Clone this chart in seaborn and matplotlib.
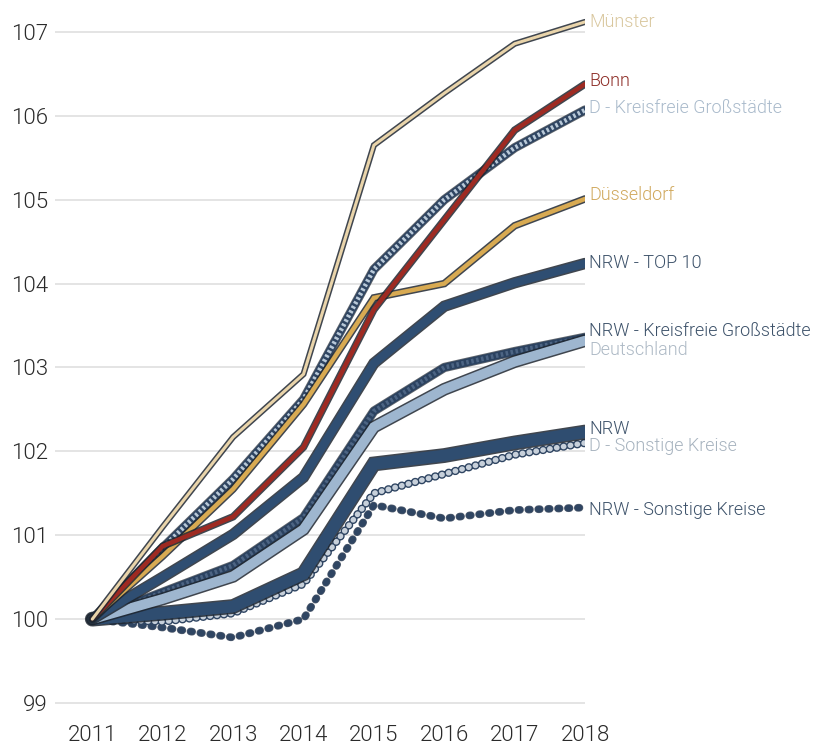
import matplotlib
matplotlib.use("Agg")
import matplotlib.pyplot as plt
import matplotlib.patheffects as pe
import seaborn as sns
import pandas as pd

years = [2011, 2012, 2013, 2014, 2015, 2016, 2017, 2018]

muenster = [100, 101.10, 102.17, 102.92, 105.65, 106.27, 106.86, 107.12]
bonn = [100, 100.87, 101.22, 102.05, 103.69, 104.76, 105.83, 106.38]
d_kreisfrei = [100, 100.85, 101.67, 102.62, 104.17, 105.00, 105.62, 106.07]
duesseldorf = [100, 100.75, 101.55, 102.56, 103.83, 104.00, 104.69, 105.01]
nrw_top10 = [100, 100.50, 101.01, 101.69, 103.05, 103.73, 104.01, 104.24]
nrw_kreisfrei = [100, 100.32, 100.64, 101.21, 102.48, 103.00, 103.19, 103.36]
deutschland = [100, 100.24, 100.51, 101.07, 102.29, 102.74, 103.07, 103.32]
nrw = [100, 100.07, 100.15, 100.54, 101.85, 101.95, 102.10, 102.23]
d_sonstige = [100, 99.97, 100.07, 100.42, 101.50, 101.73, 101.96, 102.10]
nrw_sonstige = [100, 99.90, 99.78, 100.00, 101.36, 101.20, 101.30, 101.33]

series_names = ["NRW - Sonstige Kreise", "D - Sonstige Kreise", "NRW",
                "NRW - Kreisfreie Großstädte", "Deutschland", "NRW - TOP 10",
                "D - Kreisfreie Großstädte", "Düsseldorf", "Bonn", "Münster"]
series_values = [nrw_sonstige, d_sonstige, nrw, nrw_kreisfrei, deutschland,
                 nrw_top10, d_kreisfrei, duesseldorf, bonn, muenster]

y_ticks = [99, 100, 101, 102, 103, 104, 105, 106, 107]

styles = {
    "Münster": dict(c="#e9d4aa", lw=2.2, kind="solid", lc="#d9c79e", off=0),
    "Bonn": dict(c="#9e2a22", lw=3.2, kind="solid", lc="#8e2e28", off=2.5),
    "D - Kreisfreie Großstädte": dict(c="#2f4562", lw=5.5, kind="stripe", oc="#b9c9d8", lc="#a9bacb", off=1.5),
    "Düsseldorf": dict(c="#d8aa52", lw=3.2, kind="solid", lc="#d0a85c", off=3),
    "NRW - TOP 10": dict(c="#2f4e72", lw=6.0, kind="solid", lc="#3d526a", off=0.5),
    "NRW - Kreisfreie Großstädte": dict(c="#2b4260", lw=5.5, kind="stripe", oc="#4d6584", lc="#3d526a", off=4.5),
    "Deutschland": dict(c="#9eb6cf", lw=7.0, kind="solid", lc="#adb9c5", off=-6.5),
    "NRW": dict(c="#2f4d70", lw=8.5, kind="solid", lc="#3d526a", off=2.5),
    "D - Sonstige Kreise": dict(c="#c7d0da", lw=4.0, kind="ring", lc="#a7b3bf", off=-2),
    "NRW - Sonstige Kreise": dict(c="#2f4562", lw=4.6, kind="dots", lc="#3d526a", off=-2),
}

sns.set_style("white")
plt.rcParams["font.family"] = ["Roboto", "DejaVu Sans"]

fig = plt.figure(figsize=(8.16, 7.47), dpi=100)
ax = fig.add_axes([0.0674, 0.0477, 0.717 - 0.0674, 0.9965 - 0.0477])

outline = "#1e2630"
for name, vals in zip(series_names, series_values):
    st = styles[name]
    df = pd.DataFrame({"year": years, "value": vals})
    kind = st["kind"]
    if kind == "solid":
        sns.lineplot(data=df, x="year", y="value", ax=ax, color=st["c"], lw=st["lw"],
                     solid_joinstyle="miter", solid_capstyle="round",
                     path_effects=[pe.Stroke(linewidth=st["lw"] + 2.2, foreground=outline, alpha=0.85),
                                   pe.Normal()])
    elif kind == "stripe":
        sns.lineplot(data=df, x="year", y="value", ax=ax, color=st["c"], lw=st["lw"],
                     solid_capstyle="round",
                     path_effects=[pe.Stroke(linewidth=st["lw"] + 1.2, foreground=outline, alpha=0.7),
                                   pe.Normal()])
        sns.lineplot(data=df, x="year", y="value", ax=ax, color=st["oc"], lw=st["lw"] - 2.2)
        ax.lines[-1].set_dashes([0.55, 0.55])
        ax.lines[-1].set_dash_capstyle("butt")
    elif kind == "ring":
        sns.lineplot(data=df, x="year", y="value", ax=ax, color=st["c"], lw=st["lw"])
        ln = ax.lines[-1]
        ln.set_dashes([0.05, 1.2])
        ln.set_dash_capstyle("round")
        ln.set_path_effects([pe.Stroke(linewidth=st["lw"] + 2.0, foreground="#2f4562"), pe.Normal()])
    else:
        sns.lineplot(data=df, x="year", y="value", ax=ax, color=st["c"], lw=st["lw"])
        ln = ax.lines[-1]
        ln.set_dashes([0.25, 1.3])
        ln.set_dash_capstyle("round")
        ln.set_path_effects([pe.Stroke(linewidth=st["lw"] + 1.0, foreground="#25344a", alpha=0.8), pe.Normal()])

    ax.annotate(name, xy=(years[-1], vals[-1]), xytext=(3, st["off"]), textcoords="offset points",
                ha="left", va="center", fontsize=13, color=st["lc"], annotation_clip=False,
                fontweight=300)

ax.set_xlim(2010.47, 2018)
ax.set_ylim(98.9, 107.35)
ax.set_yticks(y_ticks)
ax.set_xticks(years)
ax.set_xticklabels([str(y) for y in years])
ax.grid(axis="y", color="#dcdcdc", lw=1.1)
ax.grid(axis="x", visible=False)
ax.set_axisbelow(True)
for sp in ax.spines.values():
    sp.set_visible(False)
ax.tick_params(axis="both", length=0, labelsize=16, colors="#2a2a2a")
ax.tick_params(axis="y", pad=5)
ax.tick_params(axis="x", pad=10)
for lab in ax.get_xticklabels() + ax.get_yticklabels():
    lab.set_fontweight(300)
ax.set_xlabel("")
ax.set_ylabel("")
if ax.get_legend():
    ax.get_legend().remove()

fig.savefig("out.png", dpi=100)
